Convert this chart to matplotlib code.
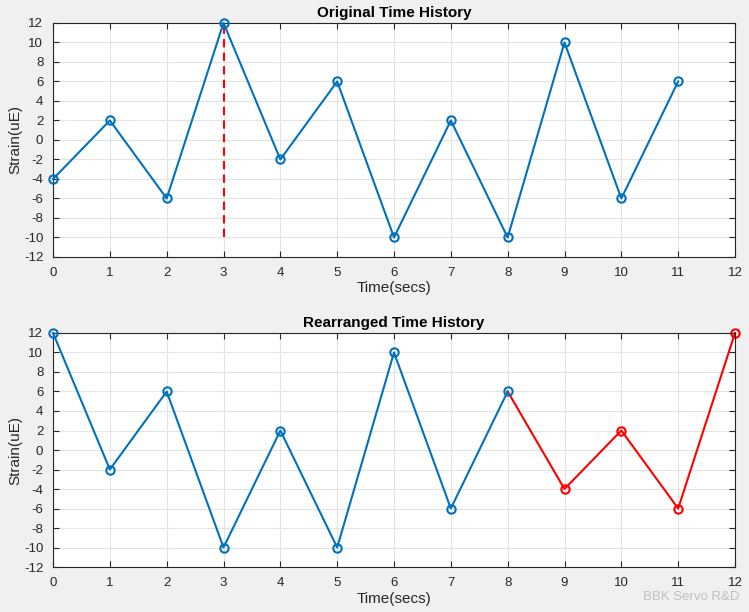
import numpy as np
import matplotlib
matplotlib.use('Agg')
import matplotlib.pyplot as plt

plt.rcParams['font.family'] = ['Liberation Sans', 'DejaVu Sans']
plt.rcParams['axes.unicode_minus'] = False

# Original time history
orig_t = [0, 1, 2, 3, 4, 5, 6, 7, 8, 9, 10, 11]
orig_strain = [-4, 2, -6, 12, -2, 6, -10, 2, -10, 10, -6, 6]
peak_t = 3
peak_range = [-10, 12]

# Rearranged time history (blue part, then red part)
rear_t = [0, 1, 2, 3, 4, 5, 6, 7, 8]
rear_strain = [12, -2, 6, -10, 2, -10, 10, -6, 6]
tail_t = [8, 9, 10, 11, 12]
tail_strain = [6, -4, 2, -6, 12]

blue = '#0072BD'
red = '#FF0000'
bg = '#F0F0F0'
txt = '#262626'

fig = plt.figure(figsize=(7.49, 6.12), dpi=100, facecolor=bg)
ax1 = fig.add_axes([0.0708, 0.5801, 0.9105, 0.3824])
ax2 = fig.add_axes([0.0708, 0.0735, 0.9105, 0.3824])


def style(ax, title):
    ax.set_xlim(0, 12)
    ax.set_ylim(-12, 12)
    ax.set_xticks(np.arange(0, 13, 1))
    ax.set_yticks(np.arange(-12, 13, 2))
    ax.grid(True, color='#E3E3E3', linewidth=0.8)
    ax.set_axisbelow(True)
    ax.tick_params(direction='in', top=True, right=True, length=4,
                   labelsize=9.5, colors=txt, width=0.8, pad=7)
    for s in ax.spines.values():
        s.set_color(txt)
        s.set_linewidth(0.8)
    ax.set_xlabel('Time(secs)', fontsize=11, color=txt, labelpad=2)
    ax.set_ylabel('Strain(uE)', fontsize=11, color=txt, labelpad=1)
    ax.set_title(title, fontsize=11, fontweight='bold', color='black', pad=4)


mk = dict(markersize=6, markerfacecolor='none', markeredgewidth=1.5,
          linewidth=1.5, clip_on=False)

ax1.plot(orig_t, orig_strain, '-o', color=blue, zorder=3, **mk)
ax1.plot([peak_t, peak_t], peak_range, '--', color=red, linewidth=1.5,
         dashes=(4, 2.5), zorder=2)
style(ax1, 'Original Time History')

ax2.plot(tail_t, tail_strain, '-o', color=red, markevery=[1, 2, 3, 4],
         zorder=2, **mk)
ax2.plot(rear_t, rear_strain, '-o', color=blue, zorder=3, **mk)
style(ax2, 'Rearranged Time History')

fig.text(0.987, 0.035, 'BBK Servo R&D', color='#C0C0C0', fontsize=9.5,
         ha='right', va='top')

fig.savefig('out.png', dpi=100, facecolor=bg)
